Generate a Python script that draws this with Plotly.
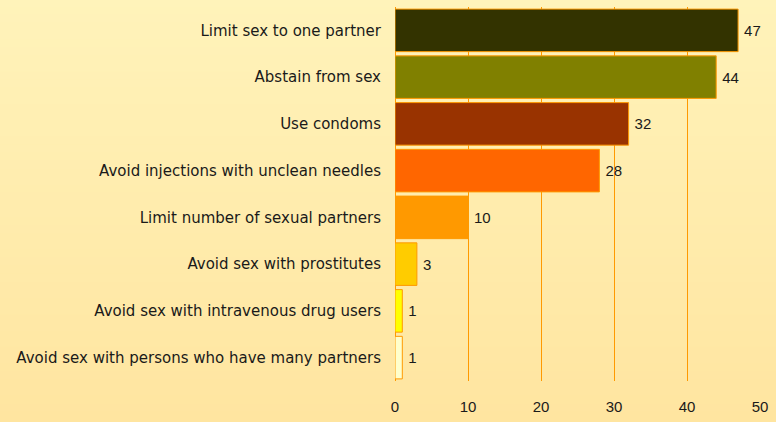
import plotly.graph_objects as go

# Ways to avoid HIV infection, share of respondents (%)
categories = [
    "Limit sex to one partner",
    "Abstain from sex",
    "Use condoms",
    "Avoid injections with unclean needles",
    "Limit number of sexual partners",
    "Avoid sex with prostitutes",
    "Avoid sex with intravenous drug users",
    "Avoid sex with persons who have many partners",
]
values = [47, 44, 32, 28, 10, 3, 1, 1]
bar_colors = ["#333300", "#808000", "#993300", "#FF6600",
              "#FF9900", "#FFCC00", "#FFFF00", "#FFFFCC"]
x_ticks = [0, 10, 20, 30, 40, 50]

num_font = dict(family="Liberation Sans, Arial, sans-serif", size=15, color="#1a1a1a")
cat_font = dict(family="DejaVu Sans, sans-serif", size=15, color="#1a1a1a")

fig = go.Figure(go.Bar(
    x=values,
    y=categories,
    orientation="h",
    marker=dict(color=bar_colors, line=dict(color="#FF9900", width=1)),
    text=[str(v) for v in values],
    texttemplate="\u2009%{text}",
    textposition="outside",
    constraintext="none",
    textfont=num_font,
    cliponaxis=False,
))

# soft vertical background gradient built from thin bands
top_rgb = (255, 244, 188)
bot_rgb = (255, 228, 158)
n_bands = 60
shapes = []
for i in range(n_bands):
    t = i / (n_bands - 1)
    r = round(top_rgb[0] + (bot_rgb[0] - top_rgb[0]) * t)
    g = round(top_rgb[1] + (bot_rgb[1] - top_rgb[1]) * t)
    b = round(top_rgb[2] + (bot_rgb[2] - top_rgb[2]) * t)
    shapes.append(dict(
        type="rect", xref="paper", yref="paper", layer="below",
        x0=-2, x1=2, y0=1.1 - (i + 1) * 1.3 / n_bands - 0.01,
        y1=1.1 - i * 1.3 / n_bands + 0.01,
        line=dict(width=0), fillcolor=f"rgb({r},{g},{b})",
    ))

fig.update_layout(
    width=776, height=422,
    margin=dict(l=395, r=16, t=7, b=33),
    paper_bgcolor="rgba(0,0,0,0)",
    plot_bgcolor="rgba(0,0,0,0)",
    shapes=shapes,
    bargap=0.09,
    showlegend=False,
    font=num_font,
    xaxis=dict(
        range=[0, 50], tickvals=x_ticks, showgrid=True, gridcolor="#FF9900", gridwidth=1,
        zeroline=True, zerolinecolor="#FF9900", zerolinewidth=1,
        ticks="outside", ticklen=12, tickcolor="rgba(0,0,0,0)",
        tickfont=num_font, showline=False, fixedrange=True,
    ),
    yaxis=dict(
        autorange="reversed", showgrid=False, ticks="outside", ticklen=10,
        tickcolor="rgba(0,0,0,0)", tickfont=cat_font, showline=False, fixedrange=True,
    ),
)

fig.write_html("out.html")
